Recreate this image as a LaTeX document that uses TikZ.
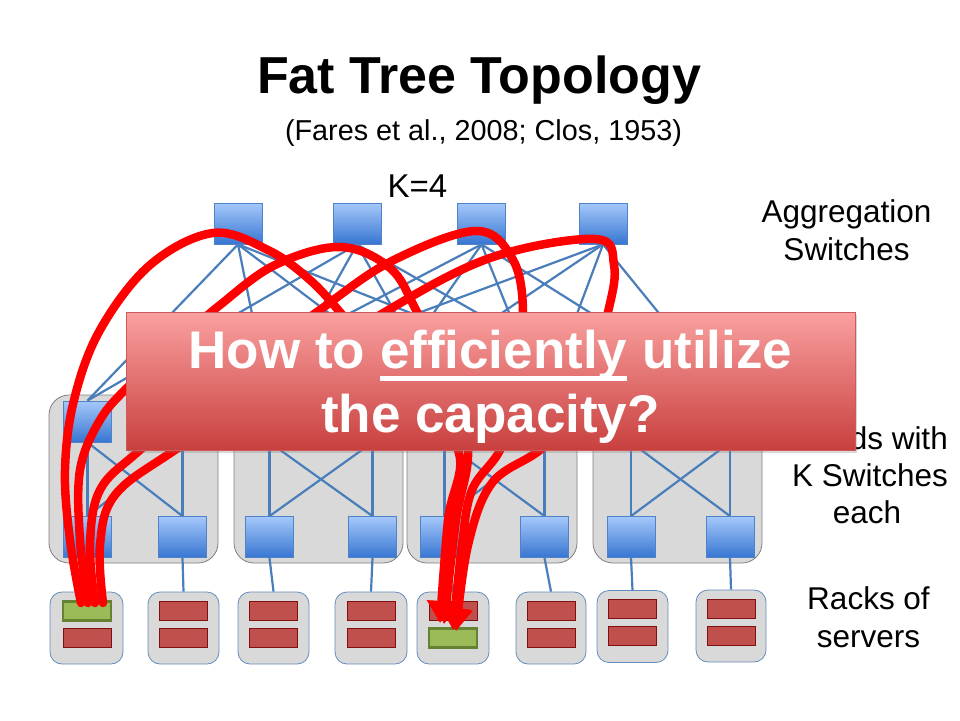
\documentclass[tikz,border=0pt]{standalone}
\usepackage{fontspec}
\setmainfont{Liberation Sans}
\usetikzlibrary{arrows.meta,shadows}
\definecolor{lnk}{RGB}{74,126,187}
\definecolor{swtop}{RGB}{165,200,250}
\definecolor{swbot}{RGB}{55,118,210}
\definecolor{swbd}{RGB}{80,130,200}
\definecolor{podfill}{RGB}{217,217,217}
\definecolor{podbd}{RGB}{128,128,128}
\definecolor{rackbd}{RGB}{100,140,190}
\definecolor{srvfill}{RGB}{192,80,77}
\definecolor{srvbd}{RGB}{128,16,16}
\definecolor{grnfill}{RGB}{155,187,89}
\definecolor{grnbd}{RGB}{100,130,50}
\definecolor{boxtop}{RGB}{250,160,160}
\definecolor{boxbot}{RGB}{200,64,62}
\definecolor{boxbd}{RGB}{205,90,88}
\definecolor{flow}{RGB}{255,0,0}
\newcommand\ulbox[1]{\setbox0=\hbox{#1}\rlap{\rule[-12.5pt]{\wd0}{4.5pt}}\box0\relax}
\tikzset{
  sw/.style={rectangle, draw=swbd, line width=0.8pt, top color=swtop, bottom color=swbot,
    minimum width=48pt, minimum height=41pt, inner sep=0pt},
  pod/.style={rectangle, rounded corners=20pt, draw=podbd, fill=podfill, line width=0.8pt,
    minimum width=169pt, minimum height=168pt, inner sep=0pt},
  rack/.style={rectangle, rounded corners=12pt, draw=rackbd, fill=podfill, line width=0.8pt,
    minimum height=72pt, inner sep=0pt},
  srv/.style={rectangle, draw=srvbd, fill=srvfill, line width=1pt,
    minimum width=48pt, minimum height=19pt, inner sep=0pt},
  srvg/.style={srv, draw=grnbd, fill=grnfill, line width=2.5pt},
  link/.style={draw=lnk, line width=2.2pt},
  flowline/.style={draw=flow, line width=8.5pt, line cap=round,
    -{Triangle[length=22pt,width=28pt]}},
  lbl/.style={anchor=base, inner sep=0pt, font=\fontsize{31.5}{36}\selectfont},
}
\begin{document}
\begin{tikzpicture}[x=1pt,y=-1pt]
\fill[white] (0,0) rectangle (960,720);
\useasboundingbox (0,0) rectangle (960,720);

% titles
\node[anchor=base, inner sep=0pt, font=\fontsize{52}{60}\selectfont\bfseries] (title) at (479,93) {Fat Tree Topology};
\node[anchor=base, inner sep=0pt, font=\fontsize{28.8}{34}\selectfont] (sub) at (483.5,140) {(Fares et al., 2008; Clos, 1953)};
\node[anchor=base, inner sep=0pt, font=\fontsize{33}{38}\selectfont] (k4) at (417.5,197) {K=4};

% pods
\node[pod] (pod1) at (133.5,479) {};
\node[pod] (pod2) at (318.5,479) {};
\node[pod, minimum width=170pt] (pod3) at (492,479) {};
\node[pod] (pod4) at (677.5,479) {};

% switches (named)
\foreach \i/\x in {1/238,2/357,3/481.5,4/603} \node[sw] (c\i) at (\x,223.5) {};
\foreach \i/\l/\r in {1/87.5/182.5,2/269.5/372.5,3/444.5/544.5,4/631/730}{
  \node[sw] (ul\i) at (\l,421.5) {};
  \node[sw] (ur\i) at (\r,421.5) {};
  \node[sw] (ll\i) at (\l,537) {};
  \node[sw] (lr\i) at (\r,537) {};
}
% links
\foreach \i in {1,2,3,4}{
  \draw[link] (ul\i.south) -- (ll\i.north);
  \draw[link] (ur\i.south) -- (lr\i.north);
  \draw[link] (ul\i.south) -- (lr\i.north);
  \draw[link] (ur\i.south) -- (ll\i.north);
  \draw[link] (c1.south) -- (ul\i.north);
  \draw[link] (c2.south) -- (ul\i.north);
  \draw[link] (c3.south) -- (ur\i.north);
  \draw[link] (c4.south) -- (ur\i.north);
}
% switch faces on top of links
\foreach \i/\x in {1/238,2/357,3/481.5,4/603} \node[sw] at (\x,223.5) {};
\foreach \i/\l/\r in {1/87.5/182.5,2/269.5/372.5,3/444.5/544.5,4/631/730}{
  \node[sw] at (\l,421.5) {};
  \node[sw] at (\r,421.5) {};
  \node[sw] at (\l,537) {};
  \node[sw] at (\r,537) {};
}

% racks
\node[rack, minimum width=73pt] (r1) at (86.5,628) {};
\node[rack, minimum width=71pt] (r2) at (183.5,628) {};
\node[rack, minimum width=71pt] (r3) at (273.5,628) {};
\node[rack, minimum width=72pt] (r4) at (371,628) {};
\node[rack, minimum width=72pt] (r5) at (453,628) {};
\node[rack, minimum width=70pt] (r6) at (551,628) {};
\node[rack, minimum width=71pt] (r7) at (632.5,626.5) {};
\node[rack, minimum width=70pt] (r8) at (731,626) {};
\draw[link] (ll1.south) -- (r1.north);
\draw[link] (lr1.south) -- (r2.north);
\draw[link] (ll2.south) -- (r3.north);
\draw[link] (lr2.south) -- (r4.north);
\draw[link] (ll3.south) -- (r5.north);
\draw[link] (lr3.south) -- (r6.north);
\draw[link] (ll4.south) -- (r7.north);
\draw[link] (lr4.south) -- (r8.north);

% servers
\node[srvg] (s1a) at (87,611) {};
\node[srv] (s1b) at (87,637.5) {};
\foreach \i/\x/\dy in {2/183.5/0,3/273.5/0,4/371/0,6/551/0,7/632.5/-1.5,8/731/-2}{
  \node[srv] (s\i a) at (\x,610.5+\dy) {};
  \node[srv] (s\i b) at (\x,637.5+\dy) {};
}
\node[srv] (s5a) at (453,610.5) {};
\node[srvg] (s5b) at (453,638) {};

% flows
\coordinate (fa0) at (81,603);  \coordinate (fa1) at (440,623);
\coordinate (fb0) at (88,603);  \coordinate (fb1) at (444,624);
\coordinate (fc0) at (95,603);  \coordinate (fc1) at (453,630);
\coordinate (fd0) at (103,603); \coordinate (fd1) at (456,631);
\draw[flowline] plot[smooth, tension=0.6] coordinates {(fa0) (70,540) (65,470) (74,400) (100,330) (150,265) (213,233) (268,250) (310,280) (345,318) (400,385) (458,450) (448,520) (fa1)};
\draw[flowline] plot[smooth, tension=0.6] coordinates {(fb0) (80,540) (80,470) (100,420) (130,385) (180,340) (220,305) (275,265) (340,247) (390,268) (417,312) (450,380) (468,450) (456,520) (fb1)};
\draw[flowline] plot[smooth, tension=0.6] coordinates {(fc0) (90,545) (100,490) (140,450) (230,375) (317,312) (390,262) (475,231) (512,258) (523,312) (515,400) (500,450) (472,490) (462,545) (fc1)};
\draw[flowline] plot[smooth, tension=0.6] coordinates {(fd0) (100,545) (115,495) (175,450) (300,370) (385,312) (490,258) (595,239) (614,265) (608,312) (580,410) (540,450) (492,483) (468,545) (fd1)};

% labels right
\node[lbl] (agg1) at (846.5,222) {Aggregation};
\node[lbl] (agg2) at (846.5,260) {Switches};
\node[lbl, anchor=base east] (pod1l) at (948,449) {Pods with};
\node[lbl] (pod2l) at (870,486) {K Switches};
\node[lbl] (pod3l) at (867,523) {each};
\node[lbl] (rk1) at (868.5,609) {Racks of};
\node[lbl] (rk2) at (868.5,647) {servers};

% question box
\node[rectangle, draw=boxbd, line width=0.6pt, top color=boxtop, bottom color=boxbot,
  minimum width=729pt, minimum height=138pt, inner sep=0pt,
  drop shadow={shadow xshift=2pt, shadow yshift=-3pt, opacity=0.3}] (q) at (490.5,381) {};
\node[anchor=base, inner sep=0pt, text=white, font=\fontsize{53}{60}\selectfont\bfseries] (q1) at (490.5,368) {How to \ulbox{efficiently} utilize};
\node[anchor=base, inner sep=0pt, text=white, font=\fontsize{53}{60}\selectfont\bfseries] (q2) at (490.5,432) {the capacity?};
\end{tikzpicture}
\end{document}
